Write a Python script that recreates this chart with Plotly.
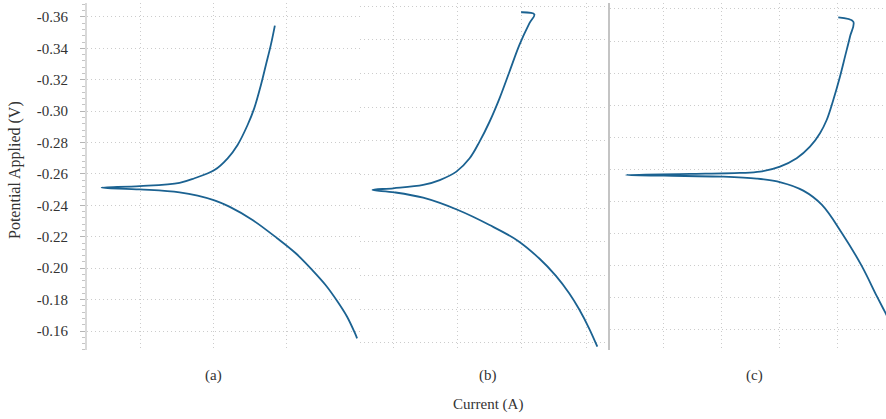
import plotly.graph_objects as go

# ---- data (x in arbitrary grid units, y in V) ----
panel_a_current = [2.838, 2.783, 2.715, 2.647, 2.555, 2.464, 2.327, 2.191, 2.010, 1.737, 1.532, 0.986, 0.464,
                   0.986, 1.532, 2.000, 2.214, 2.532, 2.869, 3.124, 3.351, 3.533, 3.692, 3.828, 3.933, 3.965]
panel_a_potential = [-0.3545, -0.3422, -0.3294, -0.3167, -0.3018, -0.2912, -0.2785, -0.2700, -0.2625, -0.2573,
                     -0.2544, -0.2523, -0.2513,
                     -0.2502, -0.2483, -0.2434, -0.2392, -0.2307, -0.2191, -0.2095, -0.1988, -0.1893, -0.1791,
                     -0.1691, -0.1589, -0.1553]

panel_b_current = [2.986, 3.193, 3.115, 2.960, 2.804, 2.649, 2.493, 2.337, 2.182, 1.975, 1.715, 1.456, 0.989, 0.663,
                   1.005, 1.456, 2.000, 2.493, 2.933, 3.271, 3.530, 3.737, 3.893, 4.048, 4.177]
panel_b_potential = [-0.3563, -0.3551, -0.3497, -0.3369, -0.3210, -0.3052, -0.2913, -0.2795, -0.2696, -0.2617,
                     -0.2567, -0.2538, -0.2518, -0.2508,
                     -0.2494, -0.2462, -0.2389, -0.2300, -0.2207, -0.2101, -0.1998, -0.1895, -0.1800, -0.1687,
                     -0.1578]

panel_c_current = [4.005, 4.264, 4.207, 4.121, 4.034, 3.919, 3.805, 3.690, 3.517, 3.288, 3.000, 2.655, 2.310,
                   1.448, 0.345,
                   1.000, 2.012, 2.598, 3.012, 3.402, 3.724, 4.069, 4.409, 4.667, 4.810, 4.931]
panel_c_potential = [-0.3548, -0.3521, -0.3427, -0.3303, -0.3178, -0.3033, -0.2908, -0.2826, -0.2742, -0.2670,
                     -0.2618, -0.2586, -0.2578, -0.2572, -0.2566,
                     -0.2561, -0.2555, -0.2543, -0.2520, -0.2468, -0.2379, -0.2203, -0.1999, -0.1812, -0.1712,
                     -0.1625]

y_ticks = [-0.36, -0.34, -0.32, -0.30, -0.28, -0.26, -0.24, -0.22, -0.20, -0.18, -0.16]
y_tick_text = ["-0.36", "-0.34", "-0.32", "-0.30", "-0.28", "-0.26", "-0.24", "-0.22", "-0.20", "-0.18", "-0.16"]
x_grid = [1, 2, 3, 4]
panel_labels = ["(a)", "(b)", "(c)"]

LINE = "#1b6291"
GRID = "#cccccc"
FONT = "Liberation Serif"
TXT = "#333333"

fig = go.Figure()
for xs, ys, xa, ya in [(panel_a_current, panel_a_potential, "x", "y"),
                       (panel_b_current, panel_b_potential, "x2", "y2"),
                       (panel_c_current, panel_c_potential, "x3", "y3")]:
    fig.add_trace(go.Scatter(x=xs, y=ys, xaxis=xa, yaxis=ya, mode="lines",
                             line=dict(color=LINE, width=1.8, shape="spline", smoothing=1.0),
                             showlegend=False))

W, H = 886, 419
L, R, T, B = 87, 0, 3, 69
pw = W - L - R
ph = H - T - B
da = [0, 273 / pw]
db = [273 / pw, 523 / pw]
dc = [523 / pw, 1]

xcommon = dict(tickvals=x_grid, showticklabels=False, showgrid=True, gridcolor=GRID,
               griddash="1px,3px", gridwidth=1, zeroline=False, ticks="")
ycommon = dict(tickvals=y_ticks, showgrid=True, gridcolor=GRID, griddash="1px,3px",
               gridwidth=1, zeroline=False)

fig.update_layout(
    width=W, height=H,
    margin=dict(l=L, r=R, t=T, b=B),
    paper_bgcolor="white", plot_bgcolor="white",
    xaxis=dict(domain=da, range=[0.263, 4.005], anchor="y", **xcommon),
    xaxis2=dict(domain=db, range=[0.469, 4.375], anchor="y2", **xcommon),
    xaxis3=dict(domain=dc, range=[0.069, 4.828], anchor="y3", **xcommon),
    yaxis=dict(anchor="x", range=[-0.1479, -0.3689], ticktext=y_tick_text,
               showticklabels=True, ticks="outside", ticklen=5, tickcolor="#b5b5b5",
               showline=True, linecolor="#d9d9d9", linewidth=2,
               ticklabelstandoff=9,
               minor=dict(dtick=0.004, ticks="outside", ticklen=3, tickcolor="#c5c5c5", showgrid=False),
               tickfont=dict(family=FONT, size=15, color=TXT), **ycommon),
    yaxis2=dict(anchor="x2", range=[-0.1558, -0.3618], showticklabels=False, ticks="", **ycommon),
    yaxis3=dict(anchor="x3", range=[-0.1475, -0.3637], showticklabels=False, ticks="",
                showline=True, linecolor="#c4c4c4", linewidth=2, **ycommon),
)

label_x = [(213 - L) / pw, (488 - L) / pw, (754 - L) / pw]
for lx, lab in zip(label_x, panel_labels):
    fig.add_annotation(text=lab, x=lx, y=(350 - 375) / ph, xref="paper", yref="paper",
                       showarrow=False, xanchor="center", yanchor="middle",
                       font=dict(family=FONT, size=15, color=TXT))

fig.add_annotation(text="Current (A)", x=(488 - L) / pw, y=(350 - 405) / ph,
                   xref="paper", yref="paper", showarrow=False, xanchor="center", yanchor="middle",
                   font=dict(family=FONT, size=15, color=TXT))
fig.add_annotation(text="Potential Applied (V)", x=(15 - L) / pw, y=(350 - 170) / ph,
                   xref="paper", yref="paper", showarrow=False, xanchor="center", yanchor="middle",
                   textangle=-90, font=dict(family=FONT, size=16, color=TXT))

fig.write_html("out.html")
